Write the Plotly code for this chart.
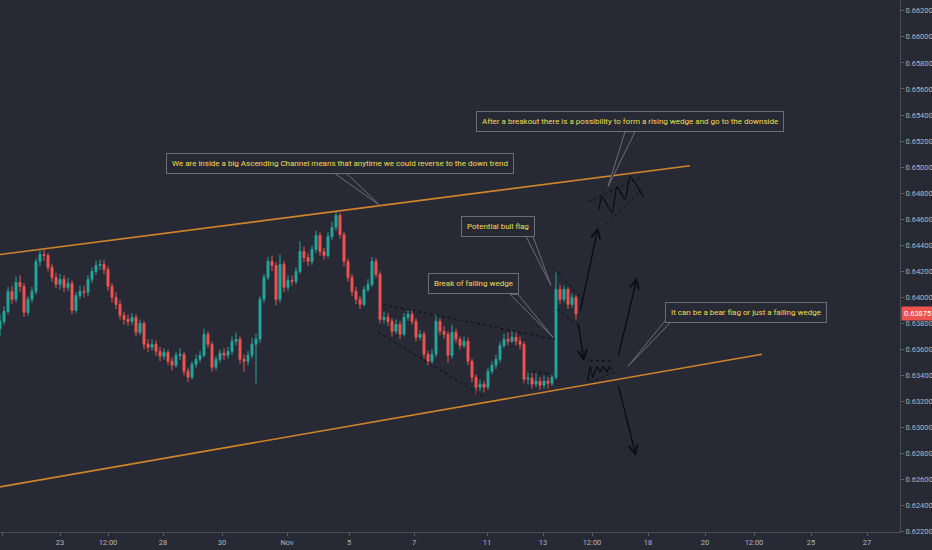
import plotly.graph_objects as go

BG = "#272a35"
UP = "#26a69a"
DN = "#ef5350"
CH = "#d0842a"
TXT = "#f2dd4f"
AX = "#b2b5be"

first_open = 0.63760
close = [
0.63816,0.63893,0.64046,0.63985,0.64115,0.64084,0.63885,0.63985,0.64046,0.64276,
0.64329,0.64322,0.64230,0.64153,0.64100,0.64138,0.64077,0.64107,0.63900,0.64015,
0.64046,0.64040,0.64138,0.64199,0.64245,0.64253,0.64214,0.64084,0.64000,0.63946,
0.63862,0.63831,0.63816,0.63847,0.63732,0.63801,0.63640,0.63617,0.63640,0.63586,
0.63548,0.63579,0.63510,0.63479,0.63556,0.63563,0.63433,0.63387,0.63487,0.63525,
0.63556,0.63717,0.63640,0.63464,0.63525,0.63571,0.63556,0.63586,0.63663,0.63678,
0.63525,0.63510,0.63556,0.63640,0.63680,0.63985,0.64153,0.64276,0.64245,0.63985,
0.64253,0.64077,0.64130,0.64123,0.64199,0.64352,0.64306,0.64276,0.64368,0.64475,
0.64352,0.64322,0.64467,0.64536,0.64628,0.64483,0.64276,0.64153,0.64046,0.63985,
0.63946,0.64061,0.64100,0.64276,0.64176,0.63831,0.63847,0.63816,0.63740,0.63793,
0.63717,0.63847,0.63870,0.63816,0.63694,0.63717,0.63563,0.63510,0.63563,0.63816,
0.63740,0.63717,0.63556,0.63732,0.63678,0.63632,0.63663,0.63510,0.63387,0.63311,
0.63334,0.63311,0.63433,0.63479,0.63525,0.63632,0.63678,0.63663,0.63694,0.63663,
0.63640,0.63372,0.63380,0.63334,0.63357,0.63326,0.63357,0.63341,0.63387,0.64061,
0.63985,0.64061,0.63946,0.64000,0.63875]
high = [
0.63870,0.63930,0.64080,0.64090,0.64160,0.64170,0.64110,0.64010,0.64080,0.64300,
0.64360,0.64365,0.64340,0.64260,0.64190,0.64180,0.64170,0.64150,0.64130,0.64040,
0.64090,0.64090,0.64170,0.64230,0.64280,0.64290,0.64290,0.64240,0.64110,0.64040,
0.63980,0.63890,0.63870,0.63880,0.63870,0.63830,0.63820,0.63680,0.63680,0.63670,
0.63620,0.63610,0.63600,0.63540,0.63580,0.63610,0.63580,0.63460,0.63510,0.63560,
0.63590,0.63760,0.63740,0.63660,0.63550,0.63600,0.63610,0.63620,0.63700,0.63730,
0.63700,0.63560,0.63590,0.63690,0.63720,0.64010,0.64180,0.64310,0.64320,0.64270,
0.64330,0.64280,0.64170,0.64170,0.64230,0.64430,0.64390,0.64340,0.64400,0.64510,
0.64500,0.64380,0.64500,0.64580,0.64660,0.64650,0.64500,0.64300,0.64180,0.64080,
0.64010,0.64090,0.64140,0.64310,0.64300,0.64200,0.63890,0.63880,0.63840,0.63830,
0.63820,0.63880,0.63910,0.63900,0.63840,0.63750,0.63740,0.63590,0.63600,0.63870,
0.63840,0.63780,0.63740,0.63790,0.63760,0.63700,0.63700,0.63690,0.63530,0.63410,
0.63370,0.63360,0.63460,0.63510,0.63560,0.63660,0.63720,0.63730,0.63740,0.63730,
0.63700,0.63660,0.63440,0.63420,0.63420,0.63390,0.63400,0.63390,0.63420,0.64192,
0.64100,0.64090,0.64080,0.64030,0.64020]
low = [
0.63700,0.63790,0.63870,0.63950,0.63960,0.64040,0.63850,0.63860,0.63960,0.64020,
0.64240,0.64280,0.64200,0.64120,0.64070,0.64060,0.64040,0.64050,0.63870,0.63880,
0.63990,0.64000,0.64010,0.64110,0.64170,0.64210,0.64180,0.64050,0.63960,0.63910,
0.63830,0.63790,0.63780,0.63790,0.63700,0.63710,0.63600,0.63580,0.63590,0.63550,
0.63510,0.63520,0.63480,0.63440,0.63460,0.63520,0.63400,0.63350,0.63370,0.63460,
0.63500,0.63540,0.63610,0.63430,0.63440,0.63500,0.63520,0.63530,0.63560,0.63630,
0.63490,0.63430,0.63480,0.63530,0.63340,0.63650,0.63960,0.64130,0.64200,0.63940,
0.63960,0.64040,0.64050,0.64090,0.64100,0.64180,0.64270,0.64240,0.64250,0.64340,
0.64320,0.64290,0.64300,0.64440,0.64510,0.64450,0.64240,0.64120,0.64010,0.63950,
0.63910,0.63930,0.64040,0.64080,0.64150,0.63800,0.63800,0.63780,0.63700,0.63720,
0.63680,0.63700,0.63820,0.63790,0.63660,0.63670,0.63530,0.63480,0.63490,0.63540,
0.63710,0.63680,0.63500,0.63530,0.63650,0.63600,0.63610,0.63480,0.63350,0.63260,
0.63280,0.63270,0.63290,0.63410,0.63450,0.63500,0.63610,0.63630,0.63650,0.63630,
0.63600,0.63340,0.63330,0.63300,0.63310,0.63290,0.63300,0.63300,0.63320,0.63370,
0.63950,0.63960,0.63910,0.63920,0.63830]
open_ = [first_open] + close[:-1]
bars = list(range(len(close)))

tick_pos = [0.5, 15, 27, 40.75, 55.5, 71.75, 87.25, 103.5, 121.75, 135.75, 148, 162, 176.25, 188.5, 202.75, 216.75]
tick_text = ["21", "23", "12:00", "28", "30", "Nov", "5", "7", "11", "13", "12:00", "18", "20", "12:00", "25", "27"]
price_ticks = [0.622 + 0.002 * k for k in range(21)]
last_price = 0.63875

# drawings (bar index, price)
upper_channel = ([0, 172.5], [0.64329, 0.65011])
lower_channel = ([0, 190.5], [0.62545, 0.63563])
dashed_lines = [
    ([95.75, 138.75], [0.63946, 0.63678]),
    ([94.5, 120.75], [0.63732, 0.63242]),
    ([131.75, 138.25], [0.63433, 0.63410]),
    ([138.25, 145.5], [0.64230, 0.63985]),
    ([139.25, 145.0], [0.63908, 0.63778]),
    ([147.0, 160.0], [0.64735, 0.64919]),
    ([151.5, 161.25], [0.64559, 0.64850]),
    ([147.5, 153.25], [0.63517, 0.63510]),
    ([147.5, 153.75], [0.63349, 0.63426]),
]
zigzags = [
    ([149.75, 150.5, 153.0, 154.25, 156.25, 157.5, 160.75],
     [0.64674, 0.64774, 0.64651, 0.64850, 0.64751, 0.64927, 0.64774]),
    ([147.0, 147.5, 148.25, 149.25, 150.0, 150.75, 151.75, 152.25, 153.0],
     [0.63357, 0.63471, 0.63387, 0.63471, 0.63426, 0.63471, 0.63426, 0.63464, 0.63448]),
]
arrows = [  # (tail_x, tail_y, tip_x, tip_y)
    (145.0, 0.63885, 149.5, 0.64536),
    (144.5, 0.63809, 146.0, 0.63510),
    (154.5, 0.63540, 159.25, 0.64153),
    (154.5, 0.63334, 159.0, 0.62782),
]
callouts = [  # text, box centre x, y, tail base x1, x2, base y, tip x, tip y
    ("We are inside a big Ascending Channel means that anytime we could reverse to the down trend",
     84.9, 0.65030, 83.75, 86.75, 0.64950, 95.0, 0.64705),
    ("After a breakout there is a possibility to form a rising wedge and go to the downside",
     157.6, 0.65348, 156.25, 158.75, 0.65272, 152.0, 0.64850),
    ("Potential bull flag", 124.4, 0.64544, 131.5, 133.25, 0.64467, 137.75, 0.64092),
    ("Break of falling wedge", 118.25, 0.64107, 127.5, 129.5, 0.64023, 138.25, 0.63694),
    ("It can be a bear flag or just a falling wedge", 186.6, 0.63881, 166.25, 168.0, 0.63820, 157.0, 0.63471),
]

fig = go.Figure()
fig.add_trace(go.Candlestick(
    x=bars, open=open_, high=high, low=low, close=close,
    increasing=dict(line=dict(color=UP, width=1), fillcolor=UP),
    decreasing=dict(line=dict(color=DN, width=1), fillcolor=DN),
    whiskerwidth=0, hoverinfo="skip"))

for xs, ys in [upper_channel, lower_channel]:
    fig.add_trace(go.Scatter(x=xs, y=ys, mode="lines", line=dict(color=CH, width=1.6), hoverinfo="skip"))
for xs, ys in dashed_lines:
    fig.add_trace(go.Scatter(x=xs, y=ys, mode="lines", line=dict(color="#0b0d12", width=1, dash="3px,3px"), hoverinfo="skip"))
for xs, ys in zigzags:
    fig.add_trace(go.Scatter(x=xs, y=ys, mode="lines", line=dict(color="#0b0d12", width=1.3, shape="spline", smoothing=0.6), hoverinfo="skip"))

for tx, ty, hx, hy in arrows:
    fig.add_annotation(x=hx, y=hy, ax=tx, ay=ty, xref="x", yref="y", axref="x", ayref="y",
                       showarrow=True, arrowhead=5, arrowsize=1.3, arrowwidth=1.4, arrowcolor="#0b0d12", text="")

for text, cx, cy, bx1, bx2, by, px, py in callouts:
    fig.add_shape(type="path", xref="x", yref="y",
                  path=f"M {bx1} {by} L {px} {py} L {bx2} {by} Z",
                  line=dict(color="#6b6e78", width=1), fillcolor=BG, layer="above")
    fig.add_annotation(x=cx, y=cy, xref="x", yref="y", text=text, showarrow=False,
                       font=dict(family="Roboto", size=8, color=TXT),
                       bgcolor=BG, bordercolor="#6b6e78", borderwidth=1, borderpad=5)

fig.add_annotation(x=1, y=last_price, xref="paper", yref="y", xanchor="left", yanchor="middle",
                   text=f"{last_price:.5f}", showarrow=False, bgcolor=DN,
                   font=dict(family="Roboto", size=7.5, color="#ffffff"), borderpad=2, xshift=1)

fig.update_layout(
    width=932, height=550, margin=dict(l=0, r=32, t=0, b=18),
    paper_bgcolor=BG, plot_bgcolor=BG, showlegend=False,
    xaxis=dict(range=[0, 225], rangeslider=dict(visible=False), showgrid=False, zeroline=False,
               tickmode="array", tickvals=tick_pos, ticktext=tick_text,
               ticks="outside", ticklen=3, tickcolor="#5d606b",
               showline=True, linecolor="#4a4d57", linewidth=1,
               tickfont=dict(family="Roboto", size=7.5, color=AX)),
    yaxis=dict(range=[0.62199, 0.66283], side="right", showgrid=False, zeroline=False,
               tickmode="array", tickvals=price_ticks, tickformat=".5f",
               ticks="outside", ticklen=3, tickcolor="#5d606b",
               showline=True, linecolor="#4a4d57", linewidth=1,
               tickfont=dict(family="Roboto", size=7.5, color=AX)),
)

fig.write_html("out.html", config={"displayModeBar": False},
               post_script="document.body.style.margin='0';document.body.style.background='#272a35';")
